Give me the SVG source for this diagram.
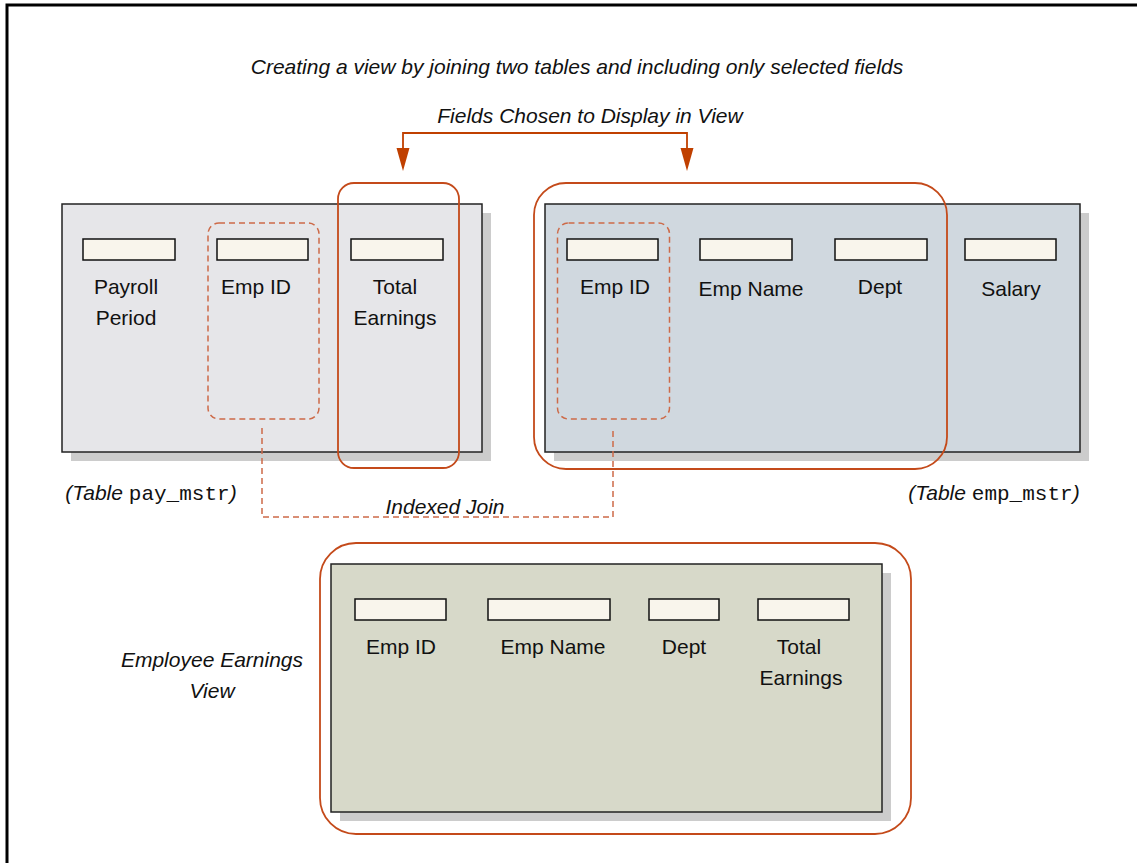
<svg xmlns="http://www.w3.org/2000/svg" width="1137" height="863" viewBox="0 0 1137 863">
<style>
.t{font-family:"Liberation Sans",Arial,sans-serif;font-size:21px;fill:#111;text-anchor:middle}
.i{font-style:italic}
.m{font-family:"Liberation Mono","Courier New",monospace;font-style:normal}
.tbl{stroke:#222;stroke-width:1.5}
.sh{fill:#cccccc}
.fld{fill:#f9f5ec;stroke:#111;stroke-width:1.5}
.hl{fill:none;stroke:#c44a1a;stroke-width:1.8}
.dash{fill:none;stroke:#cd6a48;stroke-width:1.5;stroke-dasharray:6 4}
.ah{fill:#c04000}
</style>
<rect x="0" y="0" width="1137" height="863" fill="#fff"/>
<path d="M7,870 V5 H1145" fill="none" stroke="#000" stroke-width="3"/>
<text class="t i" x="577" y="74">Creating a view by joining two tables and including only selected fields</text>
<text class="t i" x="590" y="123">Fields Chosen to Display in View</text>

<g id="pay_mstr">
<rect class="sh" x="71" y="213" width="420" height="248"/>
<rect class="tbl" x="62" y="204" width="420" height="248" fill="#e6e6e9"/>
<rect class="fld" x="83" y="239" width="92" height="21"/>
<rect class="fld" x="217" y="239" width="91" height="21"/>
<rect class="fld" x="351" y="239" width="92" height="21"/>
<text class="t" x="126" y="294">Payroll</text>
<text class="t" x="126" y="325">Period</text>
<text class="t" x="256" y="294">Emp ID</text>
<text class="t" x="395" y="294">Total</text>
<text class="t" x="395" y="325">Earnings</text>
<rect class="dash" x="208" y="223" width="111" height="196" rx="11"/>
<text class="t i" x="151" y="500">(Table <tspan class="m">pay_mstr</tspan>)</text>
</g>

<g id="emp_mstr">
<rect class="sh" x="554" y="213" width="535" height="248"/>
<rect class="tbl" x="545" y="204" width="535" height="248" fill="#d0d8df"/>
<rect class="fld" x="567" y="239" width="91" height="21"/>
<rect class="fld" x="700" y="239" width="92" height="21"/>
<rect class="fld" x="835" y="239" width="92" height="21"/>
<rect class="fld" x="965" y="239" width="91" height="21"/>
<text class="t" x="615" y="294">Emp ID</text>
<text class="t" x="751" y="296">Emp Name</text>
<text class="t" x="880" y="294">Dept</text>
<text class="t" x="1011" y="296">Salary</text>
<rect class="dash" x="557.5" y="223" width="112" height="196" rx="11"/>
<text class="t i" x="994" y="500">(Table <tspan class="m">emp_mstr</tspan>)</text>
</g>

<g id="highlights">
<rect class="hl" x="338" y="183" width="121" height="285" rx="16"/>
<rect class="hl" x="534" y="183" width="413" height="286" rx="32"/>
</g>

<g id="connectors">
<path d="M403,150 V133 H687 V150" fill="none" stroke="#c04000" stroke-width="1.8"/>
<path class="ah" d="M396.5,148 H409.5 L403,171 Z"/>
<path class="ah" d="M680.5,148 H693.5 L687,171 Z"/>
<path class="dash" d="M262,428 V517 H613 V428"/>
<text class="t i" x="445" y="514">Indexed Join</text>
</g>

<g id="view">
<rect class="hl" x="320" y="543" width="591" height="291" rx="36"/>
<rect class="sh" x="340" y="573" width="551" height="248"/>
<rect class="tbl" x="331" y="564" width="551" height="248" fill="#d7d9c9"/>
<rect class="fld" x="355" y="599" width="91" height="21"/>
<rect class="fld" x="488" y="599" width="122" height="21"/>
<rect class="fld" x="649" y="599" width="70" height="21"/>
<rect class="fld" x="758" y="599" width="91" height="21"/>
<text class="t" x="401" y="654">Emp ID</text>
<text class="t" x="553" y="654">Emp Name</text>
<text class="t" x="684" y="654">Dept</text>
<text class="t" x="799" y="654">Total</text>
<text class="t" x="801" y="685">Earnings</text>
<text class="t i" x="212" y="667">Employee Earnings</text>
<text class="t i" x="212" y="698">View</text>
</g>
</svg>
